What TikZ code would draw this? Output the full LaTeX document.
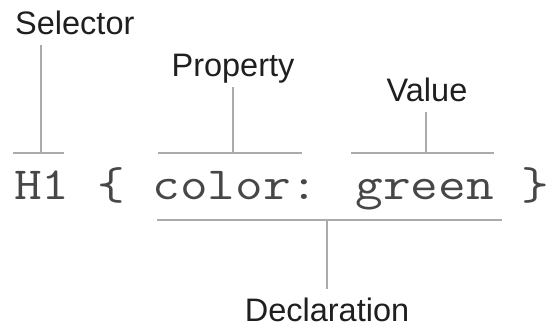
\documentclass[tikz,border=0pt]{standalone}
\usepackage{fontspec}
\setmainfont{Liberation Sans}
\begin{document}
\begin{tikzpicture}[x=1pt,y=-1pt,
  label/.style={font=\fontsize{32.5}{34}\selectfont, text=black!88,
    inner xsep=0pt, inner ysep=10pt, text depth=0pt, text height=23pt},
  code/.style={font=\ttfamily\fontsize{46}{50}\selectfont, text=black!72,
    inner sep=0pt, anchor=base west, xscale=1.168},
  rule/.style={draw=black!33, line width=1.4pt}]
\useasboundingbox (0,0) rectangle (555,328);

% the CSS rule itself
\node[code] (css) at (14,200) {H1 \{ color: green \}};

% labels
\node[label, anchor=base west] (selector) at (15,35) {Selector};
\node[label, anchor=base] (property) at (233,77) {Property};
\node[label, anchor=base] (value) at (427,102) {Value};
\node[label, anchor=base] (declaration) at (327,322) {Declaration};

% bracket bars above and below the code
\coordinate (selL) at (13,153);  \coordinate (selR) at (64,153);
\coordinate (selM) at (41,153);
\coordinate (propL) at (158,153); \coordinate (propR) at (302,153);
\coordinate (propM) at (233,153);
\coordinate (valL) at (351,153); \coordinate (valR) at (494,153);
\coordinate (valM) at (426,153);
\coordinate (decL) at (157,220); \coordinate (decR) at (502,220);
\coordinate (decM) at (327,220);

\draw[rule] (selL) -- (selR);
\draw[rule] (propL) -- (propR);
\draw[rule] (valL) -- (valR);
\draw[rule] (decL) -- (decR);

% leaders from bars to labels
\draw[rule] (selM) -- (selM |- selector.south);
\draw[rule] (propM) -- (propM |- property.south);
\draw[rule] (valM) -- (valM |- value.south);
\draw[rule] (decM) -- (decM |- declaration.north);
\end{tikzpicture}
\end{document}
